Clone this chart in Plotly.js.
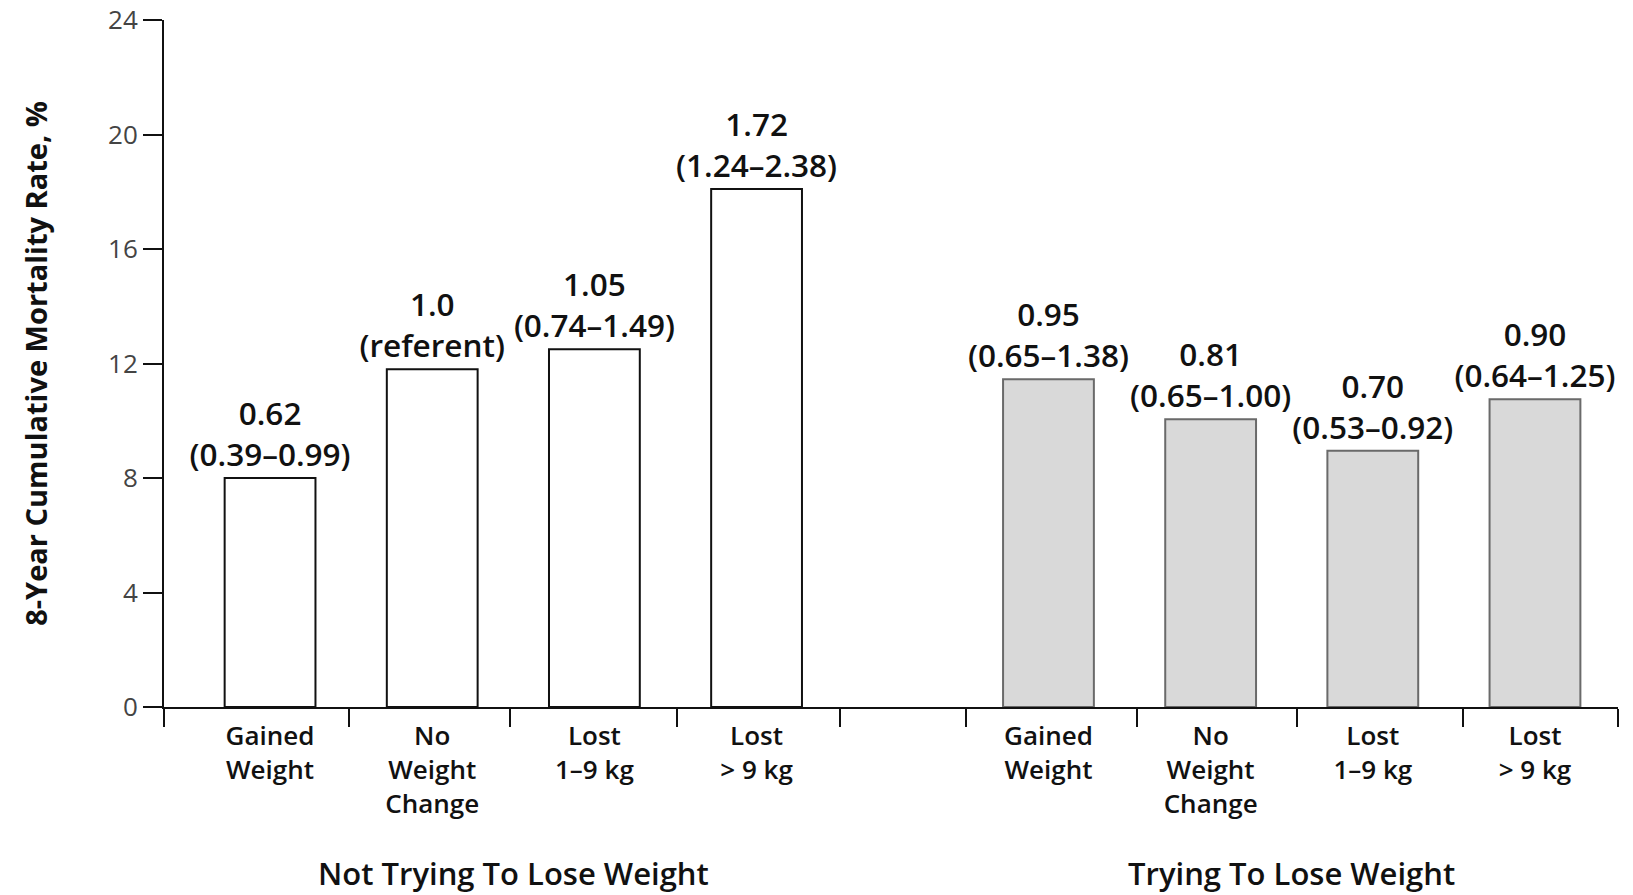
<!DOCTYPE html>
<html>
<head>
<meta charset="utf-8">
<script src="https://cdn.plot.ly/plotly-3.0.1.min.js"></script>
<style>
  html, body { margin: 0; padding: 0; background: #fff; }
  #chart { width: 1633px; height: 895px; }
</style>
</head>
<body>
<div id="chart"></div>
<script>
// ---- Data ----
const categories = ['Gained<br>Weight', 'No<br>Weight<br>Change', 'Lost<br>1–9 kg', 'Lost<br>> 9 kg'];
const groups = ['Not Trying To Lose Weight', 'Trying To Lose Weight'];
const notTryingRates = [8.0, 11.8, 12.5, 18.1];
const tryingRates = [11.45, 10.05, 8.95, 10.75];
const notTryingRR = ['0.62', '1.0', '1.05', '1.72'];
const notTryingCI = ['(0.39–0.99)', '(referent)', '(0.74–1.49)', '(1.24–2.38)'];
const tryingRR = ['0.95', '0.81', '0.70', '0.90'];
const tryingCI = ['(0.65–1.38)', '(0.65–1.00)', '(0.53–0.92)', '(0.64–1.25)'];
const yTickVals = [0, 4, 8, 12, 16, 20, 24];
const yTitle = '8-Year Cumulative Mortality Rate, %';

// ---- Layout constants ----
const GROUP_OFFSET = 4.8;           // position of the second group's first bar
const X_RANGE = [-0.654, 8.312];
const boundaryTicks = [-0.653, 0.489, 1.48, 2.508, 3.515, 4.29, 5.343, 6.335, 7.359, 8.311];
const FONT = 'Open Sans, DejaVu Sans, sans-serif';

const pos = g => categories.map((_, i) => g * GROUP_OFFSET + i);
const xNot = pos(0);
const xTry = pos(1);
const labels = (rr, ci) => rr.map((r, i) => r + '<br>' + ci[i]);

const common = {
  type: 'bar',
  width: 0.56,
  textposition: 'outside',
  constraintext: 'none',
  cliponaxis: false,
  textfont: { family: FONT, size: 31.5, color: '#111', weight: 600 },
  hoverinfo: 'skip',
  showlegend: false
};

const traces = [
  Object.assign({}, common, {
    x: xNot, y: notTryingRates, text: labels(notTryingRR, notTryingCI),
    xaxis: 'x', yaxis: 'y',
    marker: { color: '#ffffff', line: { color: '#111', width: 2 } }
  }),
  Object.assign({}, common, {
    x: xTry, y: tryingRates, text: labels(tryingRR, tryingCI),
    xaxis: 'x2', yaxis: 'y',
    marker: { color: '#d9d9d9', line: { color: '#6a6a6a', width: 2 } }
  })
];

const mean = a => a.reduce((s, v) => s + v, 0) / a.length;

const layout = {
  width: 1633, height: 895,
  margin: { l: 164, r: 15.3, t: 19.5, b: 188 },
  paper_bgcolor: '#fff', plot_bgcolor: '#fff',
  font: { family: FONT, color: '#111' },
  barmode: 'overlay',
  xaxis: {
    range: X_RANGE,
    tickvals: boundaryTicks,
    showticklabels: false,
    ticks: 'outside', ticklen: 18, tickwidth: 2, tickcolor: '#111',
    showline: true, linecolor: '#111', linewidth: 2,
    showgrid: false, zeroline: false,
    layer: 'below traces',
    fixedrange: true
  },
  xaxis2: {
    overlaying: 'x', anchor: 'y', side: 'bottom',
    range: X_RANGE,
    tickvals: xNot.concat(xTry),
    ticktext: categories.concat(categories),
    ticks: '', ticklen: 0,
    ticklabelstandoff: 11,
    tickfont: { family: FONT, size: 26, color: '#111', weight: 600 },
    showline: false, showgrid: false, zeroline: false,
    fixedrange: true
  },
  yaxis: {
    range: [0, 24],
    tickvals: yTickVals,
    ticks: 'outside', ticklen: 19, tickwidth: 2, tickcolor: '#111',
    tickfont: { family: FONT, size: 26, color: '#444' },
    showline: true, linecolor: '#111', linewidth: 2,
    showgrid: false, zeroline: false,
    layer: 'below traces',
    title: { text: yTitle, font: { family: FONT, size: 29, color: '#111', weight: 700 }, standoff: 52 },
    fixedrange: true
  },
  annotations: [
    { text: groups[0], x: mean(xNot), xref: 'x', y: -0.242, yref: 'paper',
      xanchor: 'center', yanchor: 'middle', showarrow: false,
      font: { family: FONT, size: 31, color: '#111', weight: 600 } },
    { text: groups[1], x: mean(xTry), xref: 'x', y: -0.242, yref: 'paper',
      xanchor: 'center', yanchor: 'middle', showarrow: false,
      font: { family: FONT, size: 31, color: '#111', weight: 600 } }
  ]
};

Plotly.newPlot('chart', traces, layout, { displayModeBar: false, staticPlot: true });
</script>
</body>
</html>
